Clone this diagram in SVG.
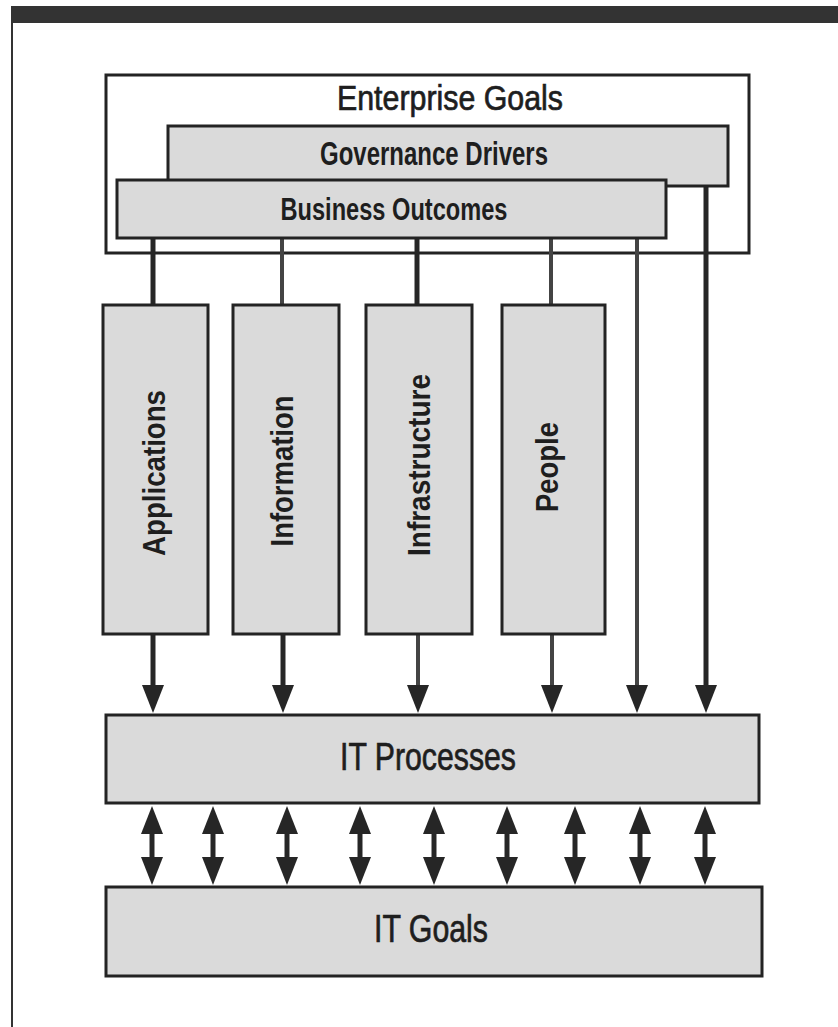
<svg xmlns="http://www.w3.org/2000/svg" width="838" height="1027" viewBox="0 0 838 1027">
  <style>
    .box { fill: #dadada; stroke: #232323; stroke-width: 3; }
    .outer { fill: #ffffff; stroke: #232323; stroke-width: 3; }
    .lbl { font-family: "Liberation Sans", Arial, sans-serif; fill: #1e1e1e; text-anchor: middle; }
    .b { font-weight: bold; }
    .m { stroke: #1e1e1e; stroke-width: 0.7; }
    .c { stroke: #262626; stroke-width: 5; fill: none; }
    .cl { stroke: #444444; stroke-width: 4; fill: none; }
    .ar { marker-end: url(#ah); }
    .dar { marker-start: url(#ah); marker-end: url(#ah); }
  </style>
  <defs>
    <marker id="ah" markerUnits="userSpaceOnUse" viewBox="0 0 28 24" markerWidth="28" markerHeight="24" refX="18" refY="12" orient="auto-start-reverse">
      <path d="M0,1 L28,12 L0,23 Z" fill="#262626"/>
    </marker>
  </defs>

  <rect x="0" y="0" width="838" height="1027" fill="#ffffff"/>
  <g id="frame">
    <rect x="11" y="6" width="827" height="17" fill="#333333"/>
    <line x1="12" y1="22" x2="12" y2="1027" stroke="#333333" stroke-width="2"/>
  </g>

  <g id="enterprise-goals">
    <rect class="outer" x="106" y="75" width="643" height="178"/>
    <text class="lbl m" x="450" y="110" font-size="35" textLength="226" lengthAdjust="spacingAndGlyphs">Enterprise Goals</text>
  </g>

  <g id="connectors">
    <line class="c" x1="706" y1="186" x2="706" y2="703" marker-end="url(#ah)"/>
    <line class="cl" x1="637" y1="238" x2="637" y2="703" marker-end="url(#ah)"/>
    <line class="c" x1="153" y1="238" x2="153" y2="305"/>
    <line class="cl" x1="282" y1="238" x2="282" y2="305"/>
    <line class="c" x1="417" y1="238" x2="417" y2="305"/>
    <line class="cl" x1="551" y1="238" x2="551" y2="305"/>
    <line class="c ar" x1="153" y1="634" x2="153" y2="703"/>
    <line class="c ar" x1="283" y1="634" x2="283" y2="703"/>
    <line class="cl ar" x1="418" y1="634" x2="418" y2="703"/>
    <line class="cl ar" x1="552" y1="634" x2="552" y2="703"/>
    <line class="c dar" x1="152" y1="816" x2="152" y2="875"/>
    <line class="c dar" x1="213" y1="816" x2="213" y2="875"/>
    <line class="c dar" x1="287" y1="816" x2="287" y2="875"/>
    <line class="c dar" x1="360" y1="816" x2="360" y2="875"/>
    <line class="c dar" x1="434" y1="816" x2="434" y2="875"/>
    <line class="c dar" x1="507" y1="816" x2="507" y2="875"/>
    <line class="c dar" x1="575" y1="816" x2="575" y2="875"/>
    <line class="c dar" x1="640" y1="816" x2="640" y2="875"/>
    <line class="c dar" x1="705" y1="816" x2="705" y2="875"/>
  </g>

  <g id="governance-drivers">
    <rect class="box" x="168" y="126" width="560" height="60"/>
    <text class="lbl b" x="434" y="165" font-size="33" textLength="228" lengthAdjust="spacingAndGlyphs">Governance Drivers</text>
  </g>

  <g id="business-outcomes">
    <rect class="box" x="117" y="180" width="549" height="58"/>
    <text class="lbl b" x="394" y="220" font-size="31" textLength="227" lengthAdjust="spacingAndGlyphs">Business Outcomes</text>
  </g>

  <g id="applications">
    <rect class="box" x="103" y="305" width="105" height="329"/>
    <text class="lbl b" transform="translate(165,473) rotate(-90)" font-size="32" textLength="166" lengthAdjust="spacingAndGlyphs">Applications</text>
  </g>
  <g id="information">
    <rect class="box" x="233" y="305" width="106" height="329"/>
    <text class="lbl b" transform="translate(293,471) rotate(-90)" font-size="32" textLength="151" lengthAdjust="spacingAndGlyphs">Information</text>
  </g>
  <g id="infrastructure">
    <rect class="box" x="366" y="305" width="106" height="329"/>
    <text class="lbl b" transform="translate(430,465) rotate(-90)" font-size="32" textLength="182" lengthAdjust="spacingAndGlyphs">Infrastructure</text>
  </g>
  <g id="people">
    <rect class="box" x="502" y="305" width="103" height="329"/>
    <text class="lbl b" transform="translate(558,467) rotate(-90)" font-size="32" textLength="90" lengthAdjust="spacingAndGlyphs">People</text>
  </g>

  <g id="it-processes">
    <rect class="box" x="106" y="715" width="653" height="88"/>
    <text class="lbl m" x="428" y="770" font-size="38" textLength="176" lengthAdjust="spacingAndGlyphs">IT Processes</text>
  </g>

  <g id="it-goals">
    <rect class="box" x="106" y="887" width="656" height="89"/>
    <text class="lbl m" x="431" y="942" font-size="38" textLength="114" lengthAdjust="spacingAndGlyphs">IT Goals</text>
  </g>
</svg>
